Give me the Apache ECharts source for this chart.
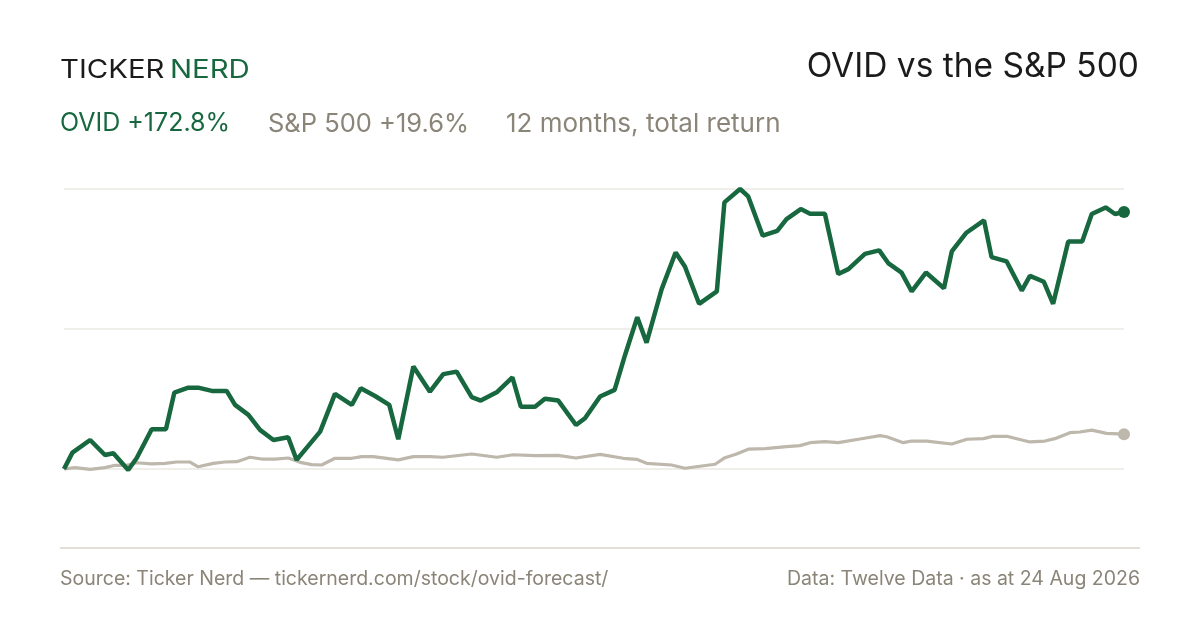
<!DOCTYPE html>
<html>
<head>
<meta charset="utf-8">
<title>OVID vs the S&P 500</title>
<script src="https://cdn.jsdelivr.net/npm/echarts@6/dist/echarts.min.js"></script>
<style>
  html, body { margin: 0; padding: 0; background: #fff; }
  #chart { width: 1200px; height: 630px; }
</style>
</head>
<body>
<div id="chart"></div>
<script>
// [day of the 12-month window, cumulative return %]
const ovidReturn = [
  [0, 0], [2.9, 11.0], [9.0, 19.5], [14.1, 9.4], [17.0, 10.6], [22.1, -0.7], [25.0, 7.2],
  [30.2, 26.7], [35.1, 26.7], [38.0, 51.4], [42.8, 54.7], [46.2, 54.7], [50.9, 52.5],
  [56.0, 52.5], [58.9, 43.1], [63.5, 36.4], [67.5, 26.3], [72.1, 19.5], [77.2, 21.3],
  [80.1, 6.1], [88.2, 25.1], [93.3, 50.5], [99.1, 43.1], [102.2, 54.3], [107.1, 49.1],
  [112.0, 43.1], [115.1, 20.0], [120.3, 68.9], [126.0, 52.0], [130.6, 63.8], [135.2, 65.5],
  [140.4, 48.3], [143.5, 46.0], [149.0, 51.6], [154.4, 61.7], [157.3, 41.9], [162.2, 41.9],
  [165.6, 47.3], [170.2, 46.0], [176.3, 29.6], [179.4, 34.1], [184.6, 48.8], [189.6, 53.2],
  [193.2, 76.7], [197.4, 102.1], [200.6, 85.0], [205.8, 121.0], [210.6, 145.6], [213.8, 136.2],
  [218.7, 111.1], [224.8, 119.4], [227.4, 179.3], [232.8, 188.3], [235.6, 183.3], [240.6, 156.9],
  [245.6, 160.2], [248.8, 168.1], [253.7, 174.8], [256.9, 171.7], [262.0, 171.7], [266.6, 131.1],
  [270.1, 134.4], [275.8, 144.7], [280.7, 147.0], [283.8, 138.5], [288.4, 132.1], [291.9, 119.4],
  [296.8, 132.1], [303.0, 121.6], [305.7, 146.3], [310.6, 158.7], [316.8, 167.2], [319.4, 142.5],
  [324.6, 139.6], [329.8, 120.0], [332.6, 129.9], [337.4, 125.9], [340.6, 111.1], [345.8, 153.0],
  [350.6, 153.0], [353.9, 171.5], [358.7, 175.9], [361.9, 171.5], [365, 172.8]
];

const spxReturn = [
  [0, 0], [3.8, 0.9], [9.0, -0.2], [14.1, 0.9], [17.6, 2.5], [21.6, 2.5], [25.0, 4.2],
  [30.2, 3.4], [34.8, 3.8], [38.8, 4.7], [43.4, 4.7], [46.2, 1.5], [51.4, 3.8], [55.4, 4.7],
  [59.5, 4.9], [64.0, 7.9], [68.1, 6.7], [72.7, 6.7], [77.2, 7.4], [81.3, 4.5], [85.3, 2.9],
  [88.7, 2.7], [93.3, 7.2], [99.1, 7.2], [102.5, 8.3], [106.5, 8.3], [115.1, 6.1], [120.3, 8.3],
  [126.0, 8.3], [130.5, 7.9], [140.4, 10.1], [149.0, 7.9], [154.7, 9.6], [162.2, 9.0],
  [170.1, 9.2], [176.3, 7.4], [184.6, 9.8], [192.6, 7.2], [197.2, 6.5], [200.6, 3.8],
  [209.2, 2.7], [213.8, 0.5], [224.2, 3.2], [227.6, 7.6], [231.6, 10.1], [235.6, 13.3],
  [241.4, 13.7], [248.8, 15.0], [253.4, 15.7], [256.9, 17.7], [262.0, 18.4], [266.6, 17.7],
  [274.1, 20.2], [281.0, 22.4], [283.3, 21.7], [289.0, 17.7], [291.9, 18.8], [297.1, 18.8],
  [305.7, 16.8], [310.9, 20.0], [316.6, 20.4], [320.0, 22.0], [324.6, 22.0], [332.6, 18.2],
  [337.8, 18.8], [341.2, 20.4], [346.4, 24.4], [349.8, 24.9], [353.9, 26.1], [359.0, 24.0],
  [365, 23.4]
];

const headline = {
  title: 'OVID vs the S&P 500',
  ovid: 'OVID +172.8%',
  spx: 'S&P 500 +19.6%',
  period: '12 months, total return',
  source: 'Source: Ticker Nerd — tickernerd.com/stock/ovid-forecast/',
  data: 'Data: Twelve Data · as at 24 Aug 2026'
};

const GREEN = '#17673f';
const GREY_LINE = '#bdb7ac';
const MUTED = '#8a8578';
const INK = '#1b1b1b';
const FONT = 'Inter, "Noto Sans", sans-serif';

const yMax = Math.max(...ovidReturn.map(p => p[1]));

const chart = echarts.init(document.getElementById('chart'));
chart.setOption({
  animation: false,
  backgroundColor: '#ffffff',
  grid: { left: 64, right: 76, top: 189, bottom: 161 },
  xAxis: {
    type: 'value', min: 0, max: 365,
    axisLine: { show: false }, axisTick: { show: false },
    axisLabel: { show: false }, splitLine: { show: false }
  },
  yAxis: {
    type: 'value', min: 0, max: yMax, interval: yMax / 2,
    axisLine: { show: false }, axisTick: { show: false }, axisLabel: { show: false },
    splitLine: { lineStyle: { color: '#ebe8e1', width: 1.5 } }
  },
  graphic: [
    // wordmark is tracked wide; zrender has no letter-spacing, so stretch it a little
    { type: 'text', x: 60, y: 57, scaleX: 1.15,
      style: { text: 'TICKER', fill: INK, font: '400 25.5px ' + FONT } },
    { type: 'text', x: 170, y: 57, scaleX: 1.15,
      style: { text: 'NERD', fill: GREEN, font: '400 25.5px ' + FONT } },
    { type: 'text', right: 61, top: 50,
      style: { text: headline.title, fill: INK, font: '400 33.5px ' + FONT } },
    { type: 'text', left: 60, top: 111,
      style: { text: headline.ovid, fill: GREEN, font: '400 25px ' + FONT } },
    { type: 'text', left: 268, top: 111,
      style: { text: headline.spx, fill: MUTED, font: '400 25.5px ' + FONT } },
    { type: 'text', left: 506, top: 111,
      style: { text: headline.period, fill: MUTED, font: '400 26px ' + FONT } },
    { type: 'rect', shape: { x: 60, y: 547, width: 1080, height: 2 },
      style: { fill: '#e2dfd7' } },
    { type: 'text', left: 60, top: 569,
      style: { text: headline.source, fill: MUTED, font: '400 19.5px ' + FONT } },
    { type: 'text', right: 60, top: 569,
      style: { text: headline.data, fill: MUTED, font: '400 19.5px ' + FONT } }
  ],
  series: [
    {
      name: 'S&P 500', type: 'line', data: spxReturn, showSymbol: false, clip: false,
      lineStyle: { color: GREY_LINE, width: 3.2 }, z: 2
    },
    {
      name: 'OVID', type: 'line', data: ovidReturn, showSymbol: false, clip: false,
      lineStyle: { color: GREEN, width: 4.5 }, z: 3
    },
    {
      type: 'scatter', data: [spxReturn[spxReturn.length - 1]], symbolSize: 12,
      itemStyle: { color: GREY_LINE, opacity: 1 }, z: 4
    },
    {
      type: 'scatter', data: [ovidReturn[ovidReturn.length - 1]], symbolSize: 12,
      itemStyle: { color: GREEN, opacity: 1 }, z: 4
    }
  ]
});
</script>
</body>
</html>
